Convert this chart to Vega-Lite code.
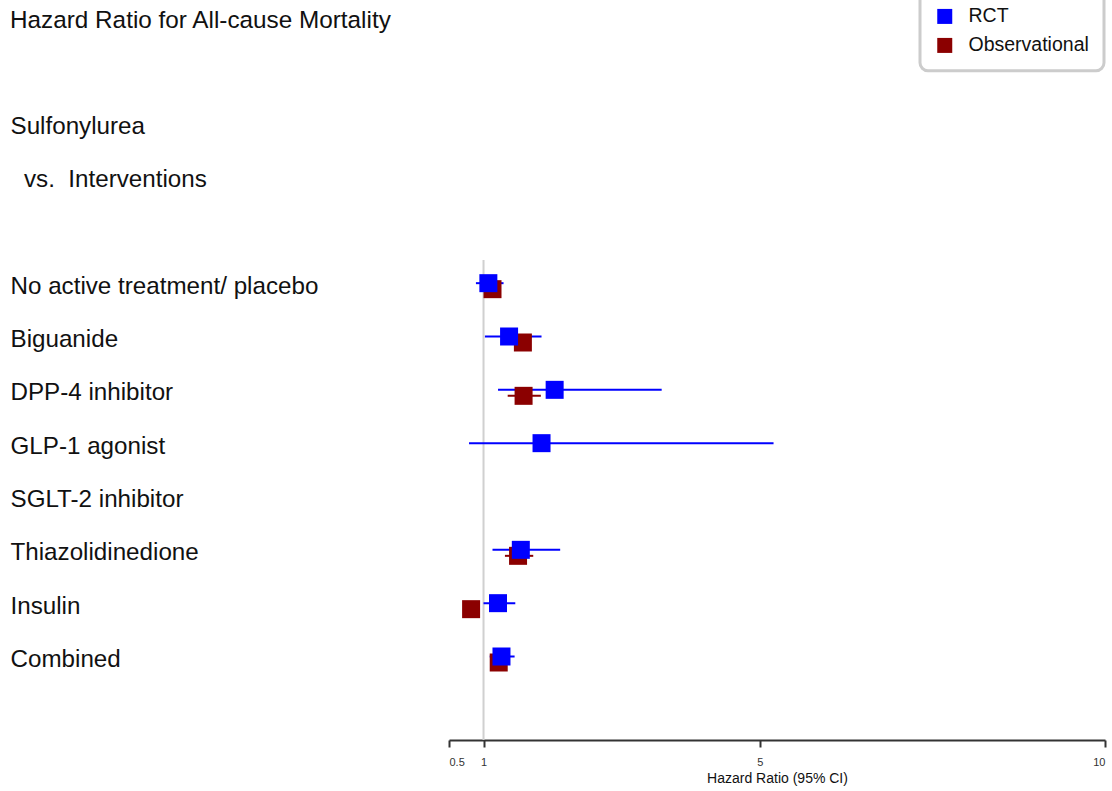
{
  "$schema": "https://vega.github.io/schema/vega-lite/v6.json",
  "autosize": {"type": "none"},
  "width": 656,
  "height": 693.33,
  "padding": {"left": 449, "top": 46.67, "right": 7, "bottom": 51},
  "background": "white",
  "config": {
    "font": "Liberation Sans",
    "view": {"stroke": null},
    "legend": {"strokeWidth": 3}
  },
  "title": {
    "text": "Hazard Ratio for All-cause Mortality",
    "anchor": "start",
    "frame": "group",
    "orient": "top",
    "fontSize": 24.3,
    "fontWeight": "normal",
    "color": "#111111",
    "baseline": "middle",
    "offset": -55,
    "dx": -439,
    "dy": 0
  },
  "data": {
    "values": [
      {"treatment": "No active treatment/ placebo", "design": "Observational", "hr": 1.13, "lo": 1.03, "hi": 1.24},
      {"treatment": "No active treatment/ placebo", "design": "RCT", "hr": 1.07, "lo": 0.89, "hi": 1.29},
      {"treatment": "Biguanide", "design": "Observational", "hr": 1.57, "lo": 1.48, "hi": 1.66},
      {"treatment": "Biguanide", "design": "RCT", "hr": 1.37, "lo": 1.02, "hi": 1.84},
      {"treatment": "DPP-4 inhibitor", "design": "Observational", "hr": 1.58, "lo": 1.35, "hi": 1.83},
      {"treatment": "DPP-4 inhibitor", "design": "RCT", "hr": 2.03, "lo": 1.21, "hi": 3.58},
      {"treatment": "GLP-1 agonist", "design": "RCT", "hr": 1.84, "lo": 0.79, "hi": 5.2},
      {"treatment": "Thiazolidinedione", "design": "Observational", "hr": 1.5, "lo": 1.31, "hi": 1.72},
      {"treatment": "Thiazolidinedione", "design": "RCT", "hr": 1.54, "lo": 1.13, "hi": 2.11},
      {"treatment": "Insulin", "design": "Observational", "hr": 0.82, "lo": 0.76, "hi": 0.88},
      {"treatment": "Insulin", "design": "RCT", "hr": 1.21, "lo": 1.0, "hi": 1.46},
      {"treatment": "Combined", "design": "Observational", "hr": 1.22, "lo": 1.12, "hi": 1.33},
      {"treatment": "Combined", "design": "RCT", "hr": 1.26, "lo": 1.09, "hi": 1.45}
    ]
  },
  "encoding": {
    "y": {
      "field": "treatment",
      "type": "nominal",
      "scale": {
        "type": "band",
        "domain": ["blank1", "Sulfonylurea", "\u200b\u00a0\u00a0vs.\u00a0\u00a0Interventions", "blank2", "No active treatment/ placebo", "Biguanide", "DPP-4 inhibitor", "GLP-1 agonist", "SGLT-2 inhibitor", "Thiazolidinedione", "Insulin", "Combined", "blank3"],
        "paddingInner": 0,
        "paddingOuter": 0
      },
      "axis": {
        "title": null,
        "domain": false,
        "ticks": false,
        "grid": false,
        "labelAlign": "left",
        "labelBaseline": "middle",
        "labelPadding": 439,
        "labelFontSize": 24.2,
        "labelColor": "#111111",
        "labelLimit": 600,
        "labelExpr": "indexof(datum.value, 'blank') == 0 ? '' : datum.value"
      }
    }
  },
  "layer": [
    {
      "data": {"values": [{"ref": 1, "row": "No active treatment/ placebo"}]},
      "mark": {"type": "rule", "color": "#d0d0d0", "strokeWidth": 2},
      "encoding": {
        "x": {"field": "ref", "type": "quantitative"},
        "y": {"field": "row", "type": "nominal", "bandPosition": 0},
        "y2": {"value": {"expr": "height"}}
      }
    },
    {
      "transform": [{"filter": "datum.design === 'Observational'"}],
      "mark": {"type": "rule", "strokeWidth": 2, "color": "#8B0000", "yOffset": 2.5},
      "encoding": {
        "x": {"field": "lo", "type": "quantitative"},
        "x2": {"field": "hi"}
      }
    },
    {
      "transform": [{"filter": "datum.design === 'RCT'"}],
      "mark": {"type": "rule", "strokeWidth": 2, "color": "#0000FF", "yOffset": -3.5},
      "encoding": {
        "x": {"field": "lo", "type": "quantitative"},
        "x2": {"field": "hi"}
      }
    },
    {
      "transform": [{"filter": "datum.design === 'Observational'"}],
      "mark": {"type": "point", "shape": "square", "filled": true, "size": 324, "opacity": 1, "yOffset": 2.5},
      "encoding": {
        "x": {"field": "hr", "type": "quantitative"},
        "color": {"field": "design", "type": "nominal"}
      }
    },
    {
      "transform": [{"filter": "datum.design === 'RCT'"}],
      "mark": {"type": "point", "shape": "square", "filled": true, "size": 324, "opacity": 1, "yOffset": -3.5},
      "encoding": {
        "x": {
          "field": "hr",
          "type": "quantitative",
          "scale": {"domain": [0.5, 10], "nice": false, "zero": false},
          "axis": {
            "values": [0.5, 1, 5, 10],
            "format": "~g",
            "grid": false,
            "domainColor": "#333333",
            "domainWidth": 2,
            "tickColor": "#333333",
            "tickWidth": 2,
            "tickSize": 7,
            "labelFontSize": 11,
            "labelColor": "#333333",
            "labelPadding": 9,
            "title": "Hazard Ratio (95% CI)",
            "titleFontSize": 14,
            "titleFontWeight": "normal",
            "titleColor": "#111111",
            "titlePadding": 4
          }
        },
        "color": {
          "field": "design",
          "type": "nominal",
          "scale": {"domain": ["RCT", "Observational"], "range": ["#0000FF", "#8B0000"]},
          "legend": {
            "title": null,
            "orient": "none",
            "legendX": 471,
            "legendY": -55,
            "padding": 15,
            "strokeColor": "#cccccc",
            "cornerRadius": 8,
            "fillColor": "white",
            "symbolType": "square",
            "symbolSize": 225,
            "symbolStrokeWidth": 0,
            "labelFontSize": 19.5,
            "labelColor": "#111111",
            "labelOffset": 14,
            "rowPadding": 8
          }
        }
      }
    }
  ]
}
